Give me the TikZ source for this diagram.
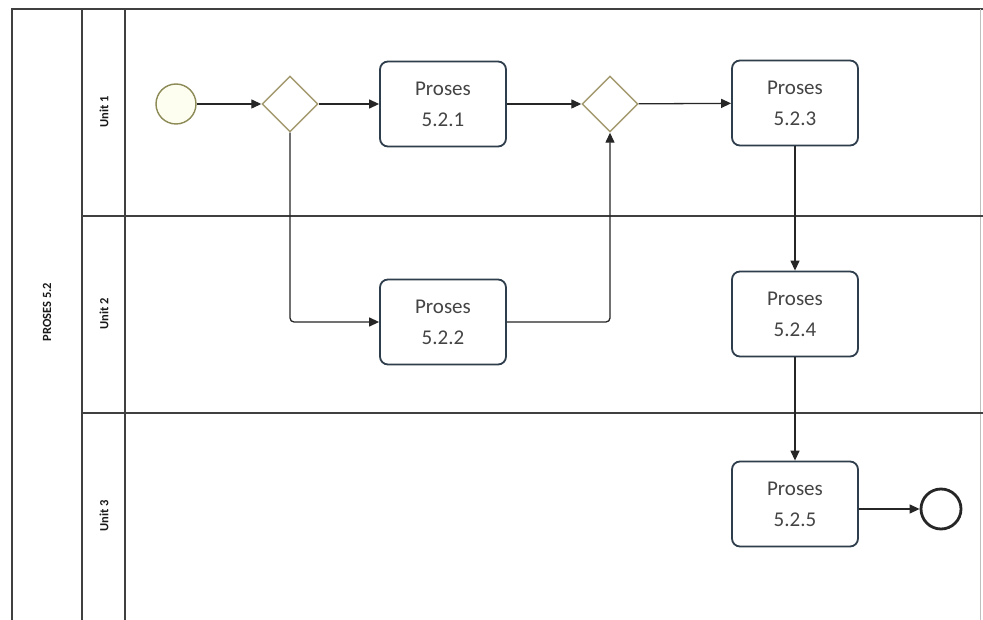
\documentclass[tikz,border=0pt]{standalone}
\usepackage{fontspec}
\setmainfont{Carlito}
\usetikzlibrary{shapes.geometric,arrows.meta}
\definecolor{boxline}{HTML}{2F3E4C}
\definecolor{gateline}{HTML}{A39A6E}
\definecolor{startline}{HTML}{8C8A55}
\definecolor{startfill}{HTML}{FDFDF0}
\definecolor{txt}{HTML}{444444}
\tikzset{
  x=1pt,y=-1pt,
  lane/.style={draw=black!75,line width=1.3pt},
  proc/.style={draw=boxline,line width=1.8pt,rounded corners=8pt,fill=white,
    minimum width=126pt,minimum height=85pt,align=center,font=\fontsize{21}{31}\selectfont,text=txt},
  gate/.style={diamond,draw=gateline,line width=1.4pt,fill=white,minimum width=56pt,minimum height=56pt,inner sep=0pt},
  startev/.style={circle,draw=startline,fill=startfill,line width=1.4pt,minimum size=40pt,inner sep=0pt},
  endev/.style={circle,draw=black!85,fill=white,line width=2.8pt,minimum size=40pt,inner sep=0pt},
  flow/.style={draw=black!85,line width=1.3pt,-{Triangle[length=10pt,width=9pt]},rounded corners=4pt},
  lbl/.style={font=\bfseries\fontsize{12.5}{14}\selectfont,rotate=90,text=black!90}
}
\begin{document}
\begin{tikzpicture}
\useasboundingbox (0,0) rectangle (983,620);
\fill[white] (0,0) rectangle (983,620);
% pool and lanes
\draw[lane] (12,620) -- (12,9) -- (983,9);
\draw[black!25,line width=0.8pt] (980,9) -- (980,620);
\draw[lane] (82,9) -- (82,620);
\draw[lane] (125,9) -- (125,620);
\draw[lane] (82,216) -- (983,216);
\draw[lane] (82,413) -- (983,413);
\node[lbl] (pool) at (47,312) {PROSES 5.2};
\node[lbl] (u1) at (104,112) {Unit 1};
\node[lbl] (u2) at (104,314) {Unit 2};
\node[lbl] (u3) at (104,516) {Unit 3};
% nodes
\node[startev] (start) at (176,104) {};
\node[gate] (g1) at (290,104) {};
\node[proc] (p1) at (443,104) {Proses\\5.2.1};
\node[gate] (g2) at (610,104) {};
\node[proc] (p3) at (795,103) {Proses\\5.2.3};
\node[proc] (p2) at (443,322) {Proses\\5.2.2};
\node[proc] (p4) at (795,314) {Proses\\5.2.4};
\node[proc] (p5) at (795,504) {Proses\\5.2.5};
\node[endev] (end) at (941,509) {};
% flows
\draw[flow] (start) -- (g1);
\draw[flow] (g1) -- (p1);
\draw[flow] (p1) -- (g2);
\draw[flow] (g2) -- (p3);
\draw[flow] (g1.south) |- (p2.west);
\draw[flow] (p2.east) -| (g2.south);
\draw[flow] (p3) -- (p4);
\draw[flow] (p4) -- (p5);
\draw[flow] (p5.east |- end) -- (end);
\end{tikzpicture}
\end{document}
